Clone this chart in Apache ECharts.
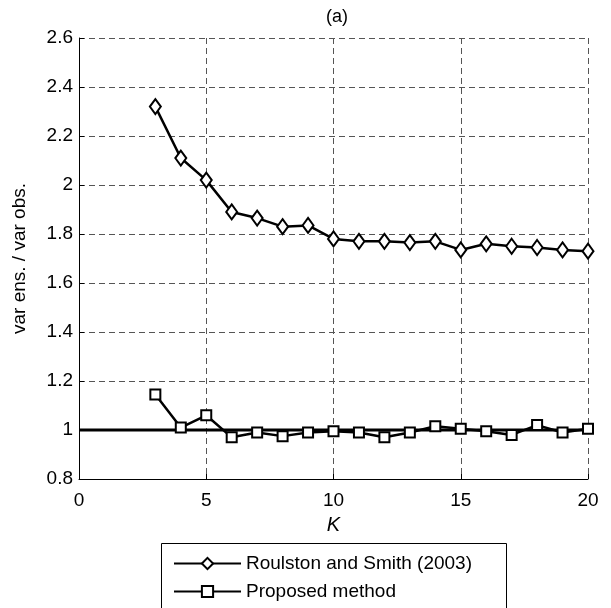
<!DOCTYPE html>
<html>
<head>
    <meta charset="utf-8">
    <script src="https://cdn.jsdelivr.net/npm/echarts@6/dist/echarts.min.js"></script>
    <style>body{margin:0;} #main{width:611px;height:608px;}</style>
</head>
<body>
    <div id="main"></div>
    <script type="text/javascript">
    // K = number of ensemble members
    var kValues = [3, 4, 5, 6, 7, 8, 9, 10, 11, 12, 13, 14, 15, 16, 17, 18, 19, 20];
    var roulston = [2.32, 2.11, 2.02, 1.89, 1.865, 1.83, 1.835, 1.78, 1.77, 1.77, 1.765, 1.77, 1.735, 1.76, 1.75, 1.745, 1.735, 1.73];
    var proposed = [1.145, 1.01, 1.06, 0.97, 0.99, 0.975, 0.99, 0.995, 0.99, 0.97, 0.99, 1.015, 1.005, 0.995, 0.98, 1.02, 0.99, 1.005];
    var refX = [0, 20];
    var refY = [1, 1];

    function pairs(xs, ys) {
        return xs.map(function (x, i) { return [x, ys[i]]; });
    }

    var font = 'Liberation Sans, Arial, sans-serif';
    var gridLine = { show: true, lineStyle: { color: '#555', type: [6, 4], width: 1 } };

    myChart = echarts.init(document.getElementById('main'));
    myChart.setOption({
        animation: false,
        title: {
            text: '(a)', left: 332, top: 3, textAlign: 'center',
            textStyle: { fontFamily: font, fontSize: 18, fontWeight: 'normal', color: '#000' }
        },
        grid: { left: 79, right: 23, top: 38, bottom: 129 },
        xAxis: {
            type: 'value', min: 0, max: 20, interval: 5,
            name: 'K', nameLocation: 'middle', nameGap: 36,
            nameTextStyle: { fontFamily: font, fontSize: 20, fontStyle: 'italic', color: '#000' },
            axisLine: { onZero: false, lineStyle: { color: '#000', width: 1 } },
            axisTick: { inside: true, length: 5, lineStyle: { color: '#000' } },
            axisLabel: { fontFamily: font, fontSize: 19, color: '#000', margin: 12 },
            splitLine: gridLine
        },
        yAxis: {
            type: 'value', min: 0.8, max: 2.6, interval: 0.2,
            name: 'var ens. / var obs.', nameLocation: 'middle', nameGap: 50,
            nameTextStyle: { fontFamily: font, fontSize: 19, color: '#000' },
            axisLine: { show: true, onZero: false, lineStyle: { color: '#000', width: 1 } },
            axisTick: { show: true, inside: true, length: 5, lineStyle: { color: '#000' } },
            axisLabel: { fontFamily: font, fontSize: 19, color: '#000', margin: 6,
                formatter: function (v) { return String(Math.round(v * 10) / 10); } },
            splitLine: gridLine
        },
        graphic: [{
            type: 'rect', left: 161, top: 543, silent: true,
            shape: { width: 345, height: 80 },
            style: { fill: '#fff', stroke: '#000', lineWidth: 1 }, z: 0
        }],
        legend: {
            orient: 'vertical', left: 173, top: 554,
            padding: 0, itemGap: 9,
            itemWidth: 67, itemHeight: 14,
            data: ['Roulston and Smith (2003)', 'Proposed method'],
            textStyle: { fontFamily: font, fontSize: 19, color: '#000' }, z: 10
        },
        series: [
            {
                name: 'reference', type: 'line', data: pairs(refX, refY),
                symbol: 'none', silent: true,
                lineStyle: { color: '#000', width: 3 }, z: 1
            },
            {
                name: 'Roulston and Smith (2003)', type: 'line', data: pairs(kValues, roulston),
                symbol: 'diamond', symbolSize: [11, 15], showAllSymbol: true,
                lineStyle: { color: '#000', width: 2.5 },
                itemStyle: { color: '#fff', borderColor: '#000', borderWidth: 2 }, z: 3
            },
            {
                name: 'Proposed method', type: 'line', data: pairs(kValues, proposed),
                symbol: 'rect', symbolSize: 10, showAllSymbol: true,
                lineStyle: { color: '#000', width: 2.5 },
                itemStyle: { color: '#fff', borderColor: '#000', borderWidth: 2 }, z: 3
            }
        ]
    });
    </script>
</body>
</html>
